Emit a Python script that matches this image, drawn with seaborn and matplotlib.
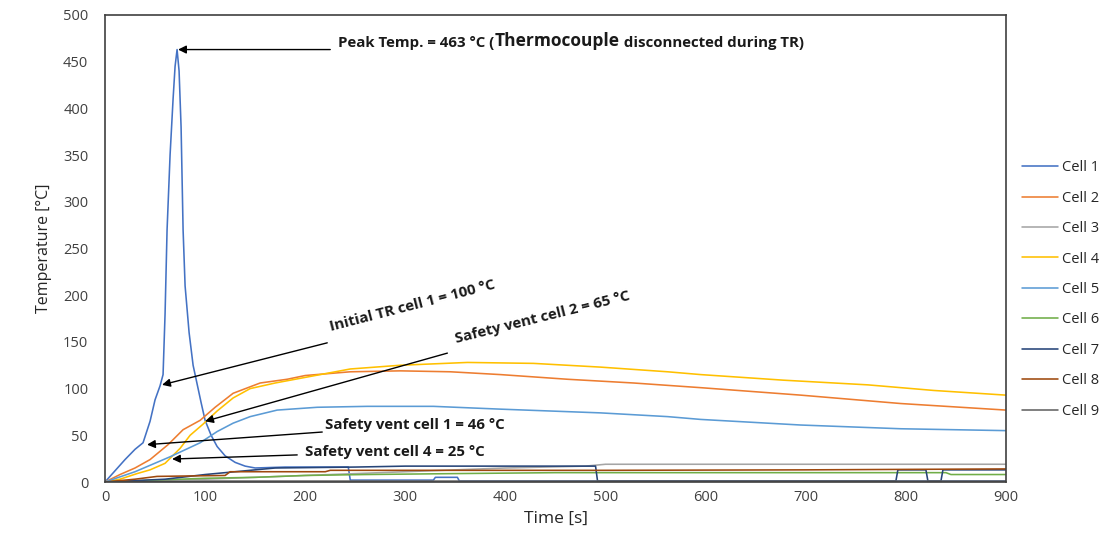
import matplotlib
matplotlib.use("Agg")
import matplotlib.pyplot as plt
import seaborn as sns
import pandas as pd
import numpy as np

# ---------------- data ----------------
cell1_t = [0, 10, 20, 30, 38, 45, 50, 55, 58, 60, 62, 65, 68, 70, 72, 74, 76, 78, 80, 84, 88, 92, 96,
           100, 106, 112, 120, 130, 140, 150, 180, 243, 245, 328, 330, 352, 354, 900]
cell1_v = [0, 12, 24, 35, 42, 65, 88, 103, 115, 180, 270, 350, 410, 445, 463, 440, 380, 270, 210, 160,
           125, 105, 85, 66, 50, 38, 28, 21, 17, 15, 16, 16, 2, 2, 5, 5, 1, 1]

cell2_t = [0, 15, 30, 45, 63, 78, 95, 110, 128, 155, 182, 200, 245, 295, 345, 395, 462, 528, 595, 695, 795, 900]
cell2_v = [0, 8, 15, 24, 40, 56, 66, 80, 95, 106, 110, 114, 118, 119, 118, 115, 110, 106, 101, 93, 84, 77]

cell3_t = [0, 100, 200, 300, 400, 480, 500, 900]
cell3_v = [0, 3, 7, 11, 15, 17, 19, 19]

cell4_t = [0, 15, 32, 45, 60, 75, 85, 98, 112, 128, 145, 170, 195, 245, 295, 362, 428, 495, 562, 595,
           678, 762, 828, 900]
cell4_v = [0, 3, 9, 13, 20, 36, 50, 62, 76, 90, 100, 106, 111, 121, 125, 128, 127, 123, 118, 115,
           109, 104, 98, 93]

cell5_t = [0, 30, 65, 95, 112, 128, 145, 172, 212, 262, 328, 395, 495, 562, 595, 695, 795, 900]
cell5_v = [0, 11, 27, 42, 54, 63, 70, 77, 80, 81, 81, 78, 74, 70, 67, 61, 57, 55]

cell6_t = [0, 50, 100, 150, 200, 260, 350, 450, 840, 845, 900]
cell6_v = [0, 2, 4, 5, 7, 8, 9, 10, 10, 8, 8]

cell7_t = [0, 60, 100, 120, 150, 170, 250, 300, 490, 492, 790, 792, 820, 822, 835, 837, 900]
cell7_v = [0, 3, 8, 10, 13, 15, 16, 17, 17, 1, 1, 13, 13, 1, 1, 13, 13]

cell8_t = [0, 30, 52, 120, 125, 220, 225, 500, 700, 900]
cell8_v = [0, 3, 6, 7, 11, 11, 12.5, 12.5, 13, 14]

cell9_t = [0, 100, 900]
cell9_v = [0, 1, 1]

cells = ["Cell 1", "Cell 2", "Cell 3", "Cell 4", "Cell 5", "Cell 6", "Cell 7", "Cell 8", "Cell 9"]
times = [cell1_t, cell2_t, cell3_t, cell4_t, cell5_t, cell6_t, cell7_t, cell8_t, cell9_t]
temps = [cell1_v, cell2_v, cell3_v, cell4_v, cell5_v, cell6_v, cell7_v, cell8_v, cell9_v]
colors = ["#4472C4", "#ED7D31", "#A5A5A5", "#FFC000", "#5B9BD5", "#70AD47", "#264478", "#9E480E", "#636363"]

x_ticks = [0, 100, 200, 300, 400, 500, 600, 700, 800, 900]
y_ticks = [0, 50, 100, 150, 200, 250, 300, 350, 400, 450, 500]

# ---------------- plot ----------------
sns.set_theme(style="white")
plt.rcParams["font.family"] = ["Open Sans", "DejaVu Sans"]

rows = []
for name, tt, vv in zip(cells, times, temps):
    for a, b in zip(tt, vv):
        rows.append((name, a, b))
df = pd.DataFrame(rows, columns=["cell", "time", "temp"])

fig = plt.figure(figsize=(11.12, 5.44), dpi=100)
ax = fig.add_axes([105 / 1112, 1 - 482 / 544, (1006 - 105) / 1112, (482 - 15) / 544])

sns.lineplot(data=df, x="time", y="temp", hue="cell", hue_order=cells,
             palette=dict(zip(cells, colors)), estimator=None, sort=False,
             linewidth=1.15, ax=ax)

ax.set_xlim(0, 900)
ax.set_ylim(0, 500)
ax.set_xticks(x_ticks)
ax.set_yticks(y_ticks)
ax.tick_params(axis="both", length=0, labelsize=10.5, labelcolor="#404040")
ax.tick_params(axis="y", pad=12)
ax.tick_params(axis="x", pad=6)
ax.set_xlabel("Time [s]", fontsize=12.5, color="#262626", labelpad=4)
ax.set_ylabel("Temperature [°C]", fontsize=11.5, color="#262626", labelpad=8)
for s in ax.spines.values():
    s.set_visible(True)
    s.set_color("#404040")
    s.set_linewidth(1.2)

leg = ax.get_legend()
handles, labels = ax.get_legend_handles_labels()
if leg is not None:
    leg.remove()
fig.legend(handles, labels, loc="center left", bbox_to_anchor=(1022 / 1112, 1 - 289.5 / 544),
           frameon=False, fontsize=10.5, labelspacing=1.06, handlelength=2.5,
           handletextpad=0.25, borderpad=0, borderaxespad=0, labelcolor="#262626")

# ---------------- annotations ----------------
arrow = dict(arrowstyle="-|>", color="black", lw=1.0, mutation_scale=12, shrinkA=0, shrinkB=0)
bold = dict(fontweight="bold", color="#1a1a1a")
fs = 10.8

# peak
ax.annotate("", xy=(73, 463), xytext=(225, 463), arrowprops=arrow)
t1 = ax.text(233, 470, "Peak Temp. = 463 °C (", fontsize=fs, va="center", ha="left", **bold)
t2 = ax.annotate("Thermocouple", xy=(1, 0), xycoords=t1, va="bottom", ha="left", fontsize=12.5, **bold)
t3 = ax.annotate(" disconnected during TR)", xy=(1, 0), xycoords=t2, va="bottom", ha="left",
                 fontsize=fs, **bold)

# initial TR
ax.annotate("", xy=(57, 104), xytext=(222, 149), arrowprops=arrow)
ax.text(307, 189, "Initial TR cell 1 = 100 °C", fontsize=fs, rotation=14.5,
        rotation_mode="anchor", ha="center", va="center", **bold)

# safety vent cell 2
ax.annotate("", xy=(100, 65), xytext=(342, 138), arrowprops=arrow)
ax.text(437, 176, "Safety vent cell 2 = 65 °C", fontsize=fs, rotation=14,
        rotation_mode="anchor", ha="center", va="center", **bold)

# safety vent cell 1
ax.annotate("", xy=(42, 40), xytext=(217, 53.5), arrowprops=arrow)
ax.text(220, 61, "Safety vent cell 1 = 46 °C", fontsize=fs, ha="left", va="center", **bold)

# safety vent cell 4
ax.annotate("", xy=(67, 24.6), xytext=(192, 29), arrowprops=arrow)
ax.text(200, 32, "Safety vent cell 4 = 25 °C", fontsize=fs, ha="left", va="center", **bold)

fig.savefig("out.png", dpi=100)
